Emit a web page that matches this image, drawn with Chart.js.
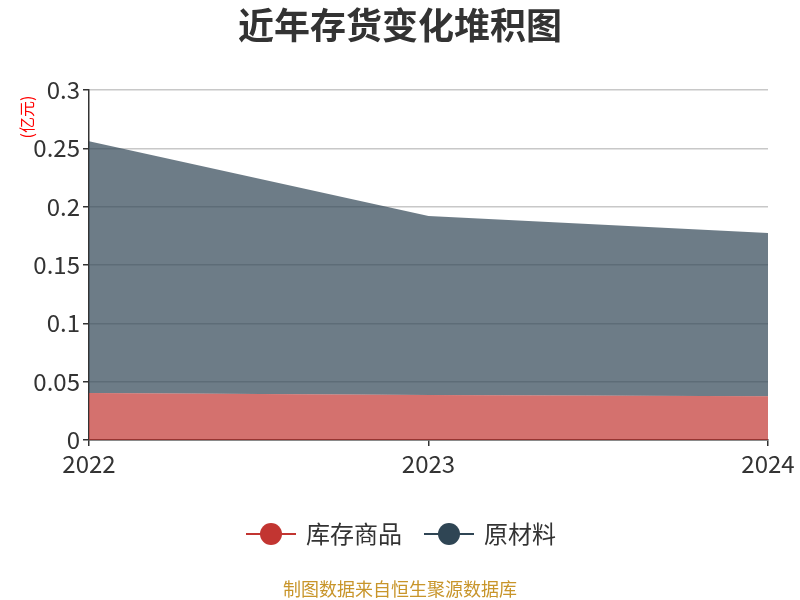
<!DOCTYPE html>
<html>
<head>
<meta charset="utf-8">
<script src="https://cdn.jsdelivr.net/npm/chart.js@4/dist/chart.umd.min.js"></script>
<style>
html,body{margin:0;padding:0;background:#fff;}
#wrap{width:800px;height:600px;position:relative;}
</style>
</head>
<body>
<div id="wrap"><canvas id="c" width="800" height="600"></canvas></div>
<script>
const titleText = '近年存货变化堆积图';
const yAxisName = '(亿元)';
const sourceText = '制图数据来自恒生聚源数据库';
const categories = ['2022', '2023', '2024'];
const seriesNames = ['库存商品', '原材料'];
const inventoryGoods = [0.0403, 0.0386, 0.0374];
const rawMaterials = [0.2157, 0.1534, 0.1400];
const seriesColors = ['#c23531', '#2f4554'];
const fillColors = ['rgba(194,53,49,0.7)', 'rgba(47,69,84,0.7)'];

const FONT = '"Noto Sans CJK SC", "Noto Sans", sans-serif';

const overlay = {
  id: 'overlay',
  afterDraw(chart) {
    const ctx = chart.ctx;
    ctx.save();
    // title
    ctx.fillStyle = '#333';
    ctx.font = 'bold 36px ' + FONT;
    ctx.textAlign = 'center';
    ctx.textBaseline = 'middle';
    ctx.fillText(titleText, 400, 25);
    // y axis name
    ctx.save();
    ctx.translate(27, 117);
    ctx.rotate(-Math.PI / 2);
    ctx.fillStyle = '#ff0000';
    ctx.font = '16px ' + FONT;
    ctx.textAlign = 'center';
    ctx.textBaseline = 'middle';
    ctx.fillText(yAxisName, 0, 0);
    ctx.restore();
    // legend
    const items = chart.data.datasets;
    let x = 246;
    const y = 534;
    ctx.font = '24px ' + FONT;
    ctx.textBaseline = 'middle';
    ctx.textAlign = 'left';
    items.forEach((ds, i) => {
      ctx.strokeStyle = seriesColors[i];
      ctx.lineWidth = 2;
      ctx.beginPath();
      ctx.moveTo(x, y);
      ctx.lineTo(x + 50, y);
      ctx.stroke();
      ctx.fillStyle = seriesColors[i];
      ctx.beginPath();
      ctx.arc(x + 25, y, 11, 0, Math.PI * 2);
      ctx.fill();
      ctx.fillStyle = '#333';
      ctx.fillText(ds.label, x + 60, y);
      x += 60 + ctx.measureText(ds.label).width + 22;
    });
    // source
    ctx.fillStyle = '#c8952a';
    ctx.font = '18px ' + FONT;
    ctx.textAlign = 'center';
    ctx.fillText(sourceText, 400, 589);
    ctx.restore();
  }
};

new Chart(document.getElementById('c'), {
  type: 'line',
  data: {
    labels: categories,
    datasets: [
      { label: seriesNames[0], data: inventoryGoods, fill: 'origin',
        backgroundColor: fillColors[0], borderColor: fillColors[0], borderWidth: 0,
        pointRadius: 0, tension: 0 },
      { label: seriesNames[1], data: rawMaterials, fill: '-1',
        backgroundColor: fillColors[1], borderColor: fillColors[1], borderWidth: 0,
        pointRadius: 0, tension: 0 }
    ]
  },
  options: {
    responsive: false,
    animation: false,
    devicePixelRatio: 1,
    layout: { padding: { top: 90, left: 0, right: 32, bottom: 110 } },
    plugins: { legend: { display: false }, title: { display: false }, tooltip: { enabled: false } },
    scales: {
      x: {
        offset: false,
        afterFit(s) { s.height = 50; },
        border: { display: true, color: '#333', width: 1.5 },
        grid: { drawOnChartArea: false, drawTicks: true, tickLength: 6, tickColor: '#333', lineWidth: 1.5 },
        ticks: { color: '#333', font: { size: 24, family: FONT }, padding: 3, maxRotation: 0 }
      },
      y: {
        stacked: true,
        min: 0, max: 0.3,
        afterFit(s) { s.width = 89; },
        border: { display: true, color: '#333', width: 1.5 },
        grid: { color: '#c8c8c8', lineWidth: 1.5, drawTicks: true, tickLength: 6, tickColor: '#333' },
        ticks: { stepSize: 0.05, color: '#333', font: { size: 24, family: FONT }, padding: 3,
          callback: (v) => String(parseFloat(v.toFixed(2))) }
      }
    }
  },
  plugins: [overlay]
});
</script>
</body>
</html>
